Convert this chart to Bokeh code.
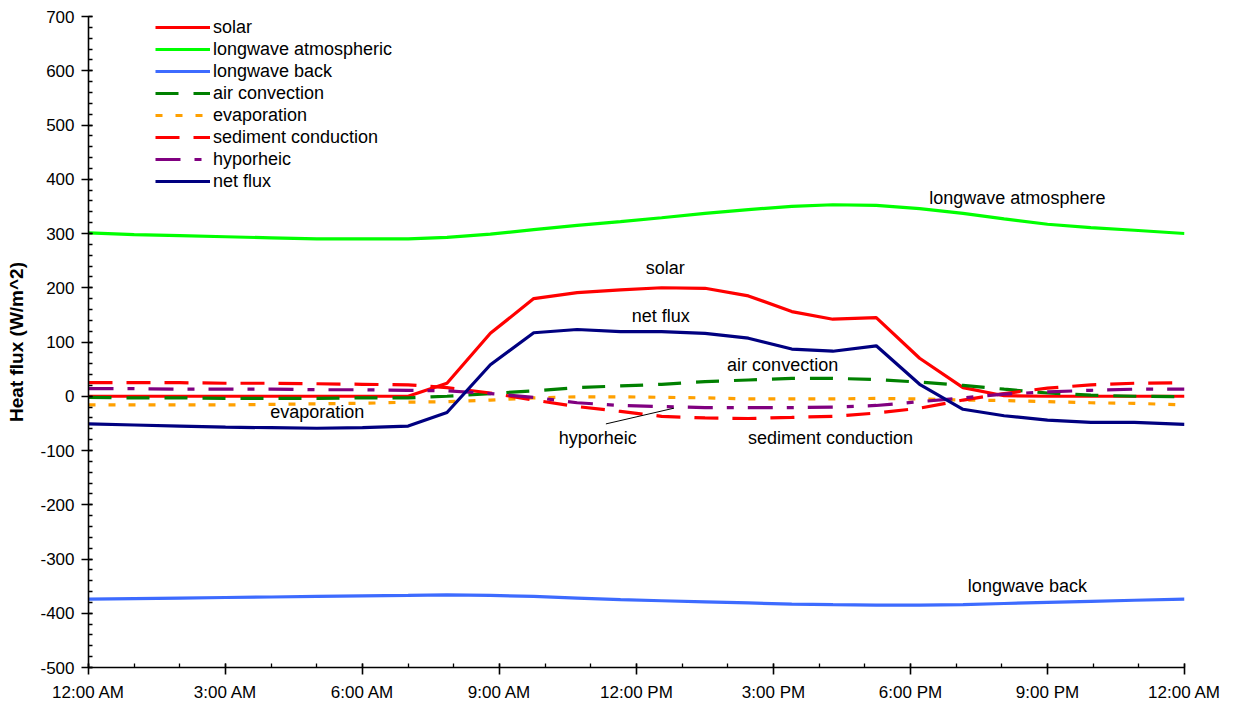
from bokeh.plotting import figure
from bokeh.models import Range1d, FixedTicker, Legend, LegendItem
from bokeh.core.properties import value
from bokeh.embed import file_html
from bokeh.resources import INLINE

# ---- data (hours after midnight, W/m^2) ----
hours = [0, 1, 2, 3, 4, 5, 6, 7, 7.85, 8.8, 9.75, 10.7, 11.65, 12.55, 13.5, 14.45,
         15.4, 16.3, 17.25, 18.2, 19.15, 20.05, 21.0, 21.95, 22.9, 24.0]
solar = [0, 0, 0, 0, 0, 0, 0, 0, 24, 116, 180, 191, 196, 200, 199, 185,
         156, 142, 145, 70, 16, 1, 0, 0, 0, 0]
longwave_atm = [301, 298, 296, 294, 292, 290, 290, 290, 293, 299, 307, 315, 322, 329, 337, 344,
                350, 353, 352, 346, 337, 327, 317, 311, 306, 300]
longwave_back = [-374, -373, -372, -371, -370, -369, -368, -367, -366, -367, -369, -372, -375, -377,
                 -379, -381, -383, -384, -385, -385, -384, -382, -380, -378, -376, -374]
air_convection = [-2, -3, -3, -4, -4, -4, -3, -3, 0, 5, 10, 16, 19, 22, 27, 30,
                  33, 33, 31, 26, 20, 13, 6, 2, 0, -1]
evaporation = [-16, -16, -16, -16, -15, -14, -13, -11, -10, -7, -3, -1, -1, -2, -3, -5,
               -5, -5, -4, -5, -7, -8, -10, -12, -13, -16]
sediment = [25, 25, 25, 24, 24, 23, 22, 21, 16, 6, -7, -19, -28, -37, -40, -41,
            -39, -37, -31, -22, -7, 5, 15, 21, 24, 25]
hyporheic = [14, 14, 13, 13, 13, 12, 12, 11, 10, 5, -2, -12, -17, -19, -21, -21,
             -21, -20, -17, -10, -3, 4, 8, 11, 13, 13]
net_flux = [-51, -53, -55, -57, -58, -59, -58, -55, -30, 58, 117, 123, 119, 119, 116, 107,
            87, 83, 93, 22, -24, -36, -44, -48, -48, -52]

tick_hours = [0, 3, 6, 9, 12, 15, 18, 21, 24]
tick_labels = ["12:00 AM", "3:00 AM", "6:00 AM", "9:00 AM", "12:00 PM",
               "3:00 PM", "6:00 PM", "9:00 PM", "12:00 AM"]
y_ticks = [-500, -400, -300, -200, -100, 0, 100, 200, 300, 400, 500, 600, 700]
y_tick_labels = ["-500", "-400", "-300", "-200", "-100", "0", "100", "200",
                 "300", "400", "500", "600", "700"]
y_minor = list(range(-500, 701, 20))

# in-chart labels (data coordinates)
note_text = ["longwave atmosphere", "solar", "net flux", "air convection",
             "evaporation", "hyporheic", "sediment conduction", "longwave back"]
note_x = [20.34, 12.63, 12.53, 15.2, 5.01, 11.15, 16.25, 20.56]
note_y = [365, 236, 148, 58, -29, -77, -77, -349]
leader_x = [11.33, 12.82]
leader_y = [-51, -22]

FONT = "Liberation Sans"

p = figure(width=1226, height=704, output_backend="svg", toolbar_location=None,
           x_range=Range1d(0, 24), y_range=Range1d(-500, 700),
           min_border_left=88, min_border_right=42, min_border_top=16, min_border_bottom=36)
p.outline_line_color = None
p.xgrid.visible = False
p.ygrid.visible = False
p.background_fill_color = "white"
p.border_fill_color = "white"

series = [
    ("solar", solar, "#FF0000", "solid"),
    ("longwave atmospheric", longwave_atm, "#00FF00", "solid"),
    ("longwave back", longwave_back, "#3D6BFF", "solid"),
    ("air convection", air_convection, "#008000", "23 15"),
    ("evaporation", evaporation, "#FFA000", "7 13"),
    ("sediment conduction", sediment, "#FF0000", "24 14"),
    ("hyporheic", hyporheic, "#800080", "25 14 7 14"),
    ("net flux", net_flux, "#000080", "solid"),
]
items = []
for name, ys, col, dash in series:
    r = p.line(hours, ys, line_color=col, line_width=3.2, line_dash=dash)
    items.append(LegendItem(label=name, renderers=[r]))

legend = Legend(items=items, location=(67, 652 - 176 - 1), orientation="vertical")
legend.border_line_color = None
legend.background_fill_alpha = 0
legend.padding = 0
legend.margin = 0
legend.spacing = 0
legend.glyph_width = 55
legend.glyph_height = 22
legend.label_height = 22
legend.label_standoff = 3
legend.label_text_font = FONT
legend.label_text_font_size = "18px"
legend.label_text_color = "black"
p.add_layout(legend, "center")

p.text(note_x, note_y, text=note_text, text_font=value(FONT), text_font_size="18px",
       text_align="center", text_baseline="middle", text_color="black")
p.line(leader_x, leader_y, line_color="black", line_width=1)

# axes
xa = p.xaxis[0]
xa.ticker = FixedTicker(ticks=tick_hours, minor_ticks=list(range(25)))
xa.major_label_overrides = {h: lab for h, lab in zip(tick_hours, tick_labels)}
xa.major_label_standoff = 8
ya = p.yaxis[0]
ya.ticker = FixedTicker(ticks=y_ticks, minor_ticks=y_minor)
ya.major_label_overrides = {v: lab for v, lab in zip(y_ticks, y_tick_labels)}
ya.axis_label = "Heat flux (W/m^2)"
ya.axis_label_text_font = FONT
ya.axis_label_text_font_style = "bold"
ya.axis_label_text_font_size = "19px"
ya.axis_label_text_color = "black"
ya.axis_label_standoff = 10
ya.major_label_standoff = 7
for ax in (xa, ya):
    ax.axis_line_color = "black"
    ax.axis_line_width = 1.6
    ax.major_tick_line_color = "black"
    ax.minor_tick_line_color = "black"
    ax.major_tick_line_width = 1.6
    ax.minor_tick_line_width = 1.3
    ax.major_tick_out = 7
    ax.major_tick_in = 4
    ax.minor_tick_out = 0
    ax.minor_tick_in = 4
    ax.major_label_text_font = FONT
    ax.major_label_text_font_size = "17px"
    ax.major_label_text_color = "black"

open("out.html", "w").write(file_html(p, INLINE))
